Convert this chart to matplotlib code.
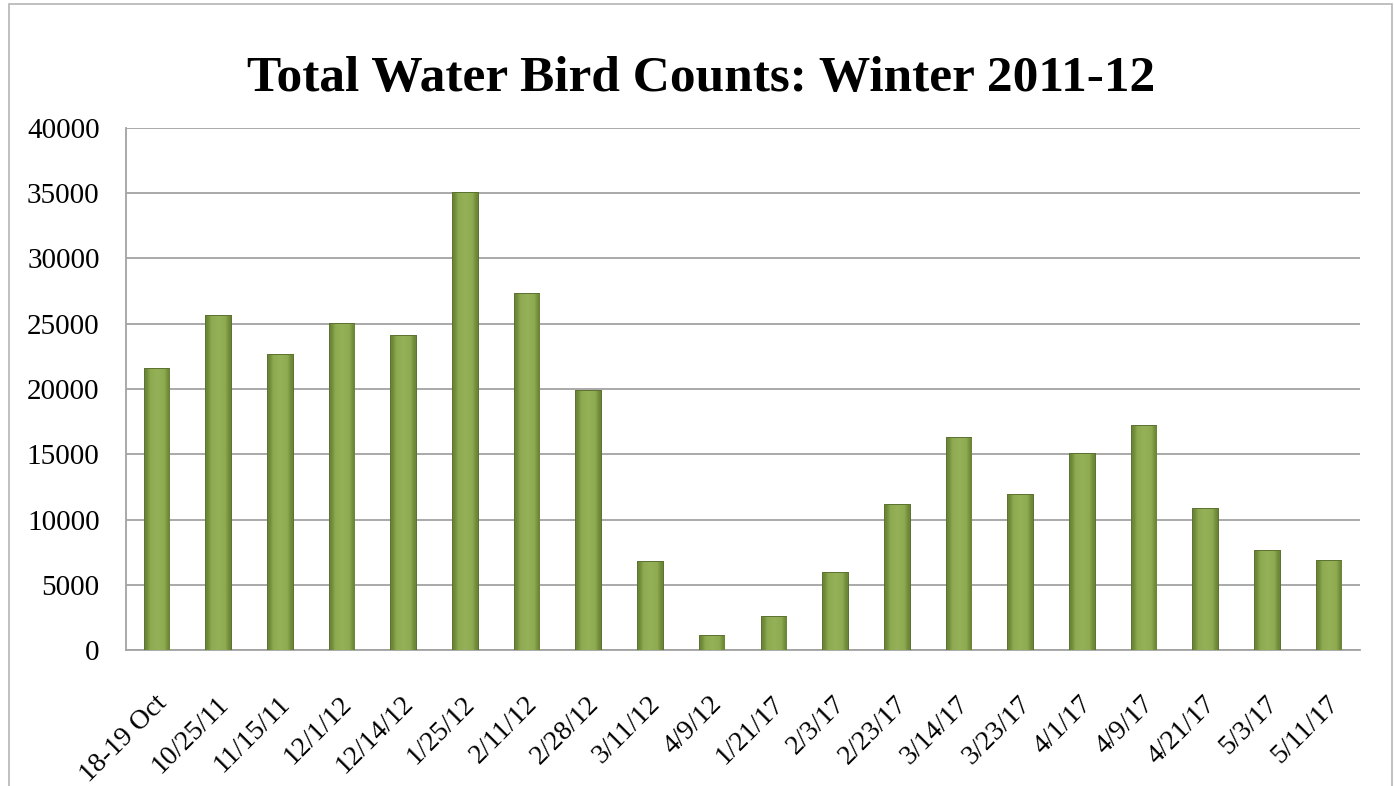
import numpy as np
import matplotlib
matplotlib.use('Agg')
import matplotlib.pyplot as plt
from matplotlib.patches import Rectangle

# Datos del grafico
fechas = ['18-19 Oct', '10/25/11', '11/15/11', '12/1/12', '12/14/12', '1/25/12', '2/11/12',
          '2/28/12', '3/11/12', '4/9/12', '1/21/17', '2/3/17', '2/23/17', '3/14/17',
          '3/23/17', '4/1/17', '4/9/17', '4/21/17', '5/3/17', '5/11/17']
conteos = [21550, 25560, 22600, 25000, 24060, 35000, 27270, 19830, 6740, 1080,
           2540, 5890, 11100, 16230, 11890, 15000, 17180, 10820, 7580, 6790]
y_ticks = [0, 5000, 10000, 15000, 20000, 25000, 30000, 35000, 40000]

serif = ['Liberation Serif', 'DejaVu Serif']
plt.rcParams['font.family'] = serif

fig = plt.figure(figsize=(13.94, 7.86), dpi=100)
ax = fig.add_axes([0.0904, 0.173, 0.8852, 0.6642])

x = np.arange(len(fechas))
barras = ax.bar(x, conteos, width=0.4, color='#8aa64c', edgecolor='#5a702d',
                linewidth=1.4, zorder=3)

# Sombreado tipo bisel en cada barra
grad = np.array([[0.0, 0.55, 0.85, 1.0, 0.85, 0.55, 0.0]])
cmap = matplotlib.colors.LinearSegmentedColormap.from_list('bisel', ['#6a8535', '#8ca94f', '#95b158'])
for b in barras:
    x0, y0 = b.get_x(), b.get_y()
    w, h = b.get_width(), b.get_height()
    im = ax.imshow(grad, cmap=cmap, extent=(x0, x0 + w, y0, y0 + h), aspect='auto',
                   zorder=3.5, interpolation='bicubic')
    im.set_clip_path(b)

ax.set_xlim(-0.5, len(fechas) - 0.5)
ax.set_ylim(0, 40000)
ax.set_yticks(y_ticks)
ax.set_yticklabels([str(v) for v in y_ticks], fontsize=21)
ax.set_xticks(x + 0.1)
ax.set_xticklabels(fechas, fontsize=20, rotation=45, ha='right', va='center',
                   rotation_mode='anchor')
ax.tick_params(axis='y', length=0, pad=19)
ax.tick_params(axis='x', length=0, pad=36)

ax.yaxis.grid(True, color='#a3a3a3', linewidth=1.3, zorder=0)
ax.set_axisbelow(True)
for s in ['top', 'right']:
    ax.spines[s].set_visible(False)
ax.spines['left'].set_color('#a3a3a3')
ax.spines['bottom'].set_color('#a3a3a3')
ax.spines['left'].set_linewidth(1.3)
ax.spines['bottom'].set_linewidth(1.3)

fig.text(0.503, 0.90, 'Total Water Bird Counts: Winter 2011-12', ha='center', va='center',
         fontsize=37, fontweight='bold', family=serif)

# Borde del area del grafico
fig.patches.append(Rectangle((9 / 1394, -0.05), 1383 / 1394, 1.05 - 4 / 786,
                             transform=fig.transFigure, fill=False,
                             edgecolor='#b5b5b5', linewidth=1.2))

plt.savefig('out.png', dpi=100)
